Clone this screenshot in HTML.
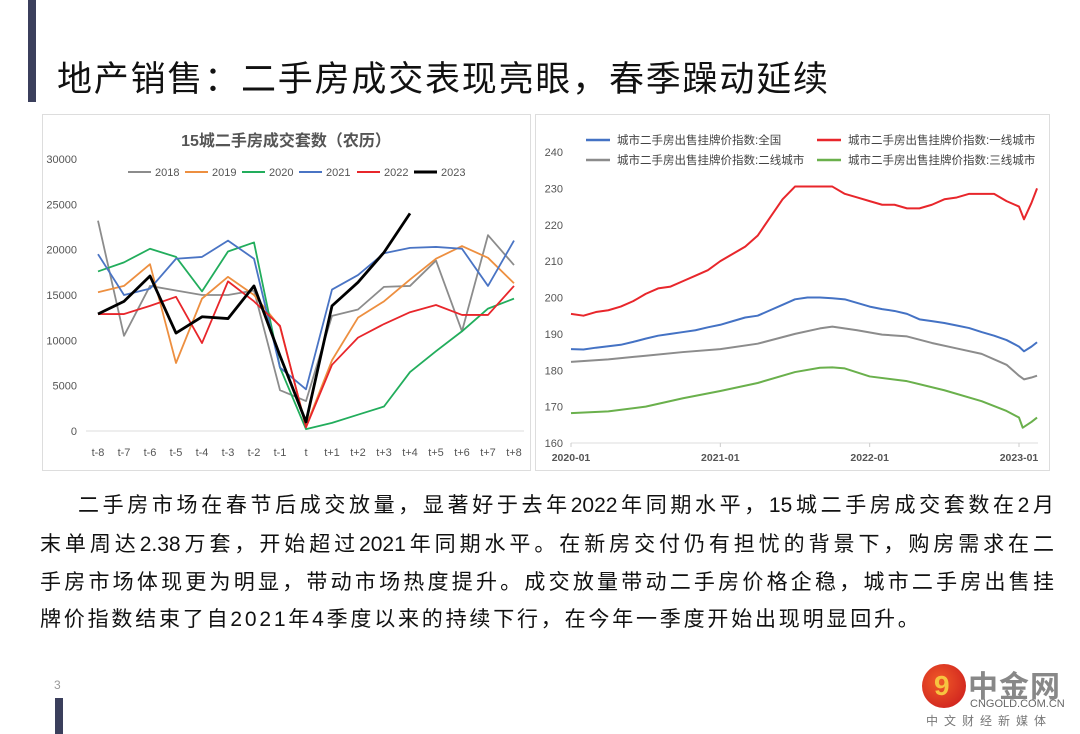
<!DOCTYPE html>
<html><head><meta charset="utf-8">
<style>
*{margin:0;padding:0;box-sizing:border-box}
body{width:1080px;height:734px;background:#fff;position:relative;overflow:hidden;font-family:"Liberation Sans","Noto Sans CJK SC",sans-serif}
.abs{position:absolute}
.line{position:absolute;left:40px;width:1014px;font-size:21px;color:#111;white-space:nowrap;text-align:justify;text-align-last:justify;height:30px;line-height:30px}
</style></head><body>
<div class="abs" style="left:28px;top:0;width:8px;height:102px;background:#3b3f5c"></div>
<div class="abs" style="left:57px;top:58px;font-size:35px;letter-spacing:1.8px;color:#111;white-space:nowrap;line-height:44px">地产销售：二手房成交表现亮眼，春季躁动延续</div>

<svg class="abs" style="left:0;top:0" width="1080" height="734">
<rect x="42.5" y="114.5" width="488" height="356" fill="#fff" stroke="#ddd"/>
<rect x="535.5" y="114.5" width="514" height="356" fill="#fff" stroke="#ddd"/>
<g id="left"></g><g id="right"></g>
</svg>

<div class="line" style="top:491px;left:78px;width:976px">二手房市场在春节后成交放量，显著好于去年2022年同期水平，15城二手房成交套数在2月</div>
<div class="line" style="top:530px">末单周达2.38万套，开始超过2021年同期水平。在新房交付仍有担忧的背景下，购房需求在二</div>
<div class="line" style="top:568px">手房市场体现更为明显，带动市场热度提升。成交放量带动二手房价格企稳，城市二手房出售挂</div>
<div class="line" style="top:605px;text-align-last:left;width:auto;letter-spacing:2.8px">牌价指数结束了自2021年4季度以来的持续下行，在今年一季度开始出现明显回升。</div>

<div class="abs" style="left:54px;top:678px;font-size:12px;color:#999">3</div>
<div class="abs" style="left:55px;top:698px;width:8px;height:36px;background:#3b3f5c"></div>

<div class="abs" style="left:922px;top:662px;width:150px;height:70px">
 <div class="abs" style="left:0;top:2px;width:44px;height:44px;border-radius:50%;background:radial-gradient(circle at 40% 40%,#f05a28,#c8161d)"></div>
 <div class="abs" style="left:12px;top:8px;font-size:28px;font-weight:bold;color:#f7c340">9</div>
 <div class="abs" style="left:46px;top:0;font-size:30px;font-weight:bold;color:#888;letter-spacing:1px">中金网</div>
 <div class="abs" style="left:48px;top:36px;font-size:11px;color:#666">CNGOLD.COM.CN</div>
 <div class="abs" style="left:4px;top:50px;font-size:12px;color:#777;letter-spacing:6px">中文财经新媒体</div>
</div>

<script>
const NS='http://www.w3.org/2000/svg';
function mk(p,t,a){const e=document.createElementNS(NS,t);for(const k in a)e.setAttribute(k,a[k]);p.appendChild(e);return e;}

// ---- Left chart data ----
const lCats=['t-8','t-7','t-6','t-5','t-4','t-3','t-2','t-1','t','t+1','t+2','t+3','t+4','t+5','t+6','t+7','t+8'];
const lYTicks=[0,5000,10000,15000,20000,25000,30000];
const lSeriesNames=['2018','2019','2020','2021','2022','2023'];
const lColors=['#8c8c8c','#ed8f40','#22ad5c','#4a74c4','#e8262b','#000'];
const s2018=[23200,10500,16000,15500,15000,15000,15500,4500,3300,12700,13400,15900,16000,18800,11000,21600,18300];
const s2019=[15300,16000,18400,7500,14600,17000,15000,11500,500,7800,12500,14300,16700,19000,20400,19100,16300];
const s2020=[17600,18600,20100,19200,15400,19800,20800,7000,200,900,1800,2700,6500,8800,11000,13500,14600];
const s2021=[19500,15000,15700,19000,19200,21000,19000,7000,4600,15600,17200,19600,20200,20300,20100,16000,21000];
const s2022=[12900,12900,13800,14800,9700,16500,14300,11600,400,7300,10300,11800,13100,13900,12800,12800,16000];
const s2023=[12900,14300,17100,10800,12600,12400,16000,8300,1000,13800,16400,19700,24000];
const lSeries=[s2018,s2019,s2020,s2021,s2022,s2023];

// ---- Right chart data ----
const rXTicks=['2020-01','2021-01','2022-01','2023-01'];
const rYTicks=[160,170,180,190,200,210,220,230,240];
const rNames=['城市二手房出售挂牌价指数:全国','城市二手房出售挂牌价指数:一线城市','城市二手房出售挂牌价指数:二线城市','城市二手房出售挂牌价指数:三线城市'];
const rColors=['#4472c4','#e8262b','#8c8c8c','#6ab04c'];
const monthsNat=[0,1,2,3,4,5,6,7,8,9,10,11,12,13,14,15,16,17,18,19,20,21,22,23,24,25,26,27,28,29,30,31,32,33,34,35,36,36.4,37,37.45];
const natVals=[185.8,185.7,186.2,186.6,187,187.8,188.7,189.5,190,190.5,191,191.8,192.5,193.5,194.5,195,196.5,198,199.5,200,200,199.8,199.5,198.5,197.5,196.8,196.3,195.5,194,193.5,193,192.3,191.6,190.5,189.5,188.3,186.5,185.2,186.5,187.7];
const monthsT1=[0,1,2,3,4,5,6,7,8,9,10,11,12,13,14,15,16,17,18,19,20,21,22,23,24,25,26,27,28,29,30,31,32,33,34,35,36,36.4,37,37.45];
const t1Vals=[195.5,195,196,196.5,197.5,199,201,202.5,203,204.5,206,207.5,210,212,214,217,222,227,230.5,230.5,230.5,230.5,228.5,227.5,226.5,225.5,225.5,224.5,224.5,225.5,227,227.5,228.5,228.5,228.5,226.5,225,221.5,226,230];
const monthsT2=[0,3,6,9,12,15,18,20,21,23,25,27,29,31,33,35,36,36.4,37,37.45];
const t2Vals=[182.3,183,184,185,185.8,187.3,190,191.5,192,191,189.8,189.3,187.5,186,184.5,181.5,178.5,177.5,178,178.5];
const monthsT3=[0,3,6,9,12,15,18,20,21,22,24,27,30,33,35,36,36.3,37,37.45];
const t3Vals=[168.2,168.7,170,172.3,174.3,176.5,179.5,180.7,180.8,180.5,178.3,177,174.5,171.5,168.8,167,164.2,165.8,167];
const rX=[monthsNat,monthsT1,monthsT2,monthsT3];
const rY=[natVals,t1Vals,t2Vals,t3Vals];

// ---- Left chart draw ----
(function(){
const g=document.getElementById('left');
const x=i=>98+i*26, y=v=>431-v*272/30000;
let t=mk(g,'text',{x:286,y:146,'font-size':16,'font-weight':'bold',fill:'#555','text-anchor':'middle'});t.textContent='15城二手房成交套数（农历）';

let ax=mk(g,'line',{x1:86,x2:524,y1:431,y2:431,stroke:'#ddd'});

lYTicks.forEach(v=>{const e=mk(g,'text',{x:77,y:y(v)+4,'font-size':11,fill:'#555','text-anchor':'end'});e.textContent=v;
});
lCats.forEach((c,i)=>{const e=mk(g,'text',{x:x(i),y:456,'font-size':11,fill:'#555','text-anchor':'middle'});e.textContent=c;
});
lSeries.forEach((s,k)=>{const p=mk(g,'polyline',{points:s.map((v,i)=>x(i)+','+y(v)).join(' '),fill:'none',stroke:lColors[k],'stroke-width':k==5?2.8:1.8,'stroke-linejoin':'round'});
});
const lx=[129,186,243,300,358,415];
lSeriesNames.forEach((n,k)=>{const gg=mk(g,'g',{});

mk(gg,'line',{x1:lx[k]-1,x2:lx[k]+22,y1:172,y2:172,stroke:lColors[k],'stroke-width':k==5?3:2});
const e=mk(gg,'text',{x:lx[k]+26,y:176,'font-size':11,fill:'#555'});e.textContent=n;});
})();

// ---- Right chart draw ----
(function(){
const g=document.getElementById('right');
const x=m=>571+m*448/36, y=v=>443-(v-160)*291/80;
let ax=mk(g,'line',{x1:571,x2:1038,y1:443,y2:443,stroke:'#ddd'});

rYTicks.forEach(v=>{const e=mk(g,'text',{x:563,y:y(v)+4,'font-size':11,fill:'#555','text-anchor':'end'});e.textContent=v;
});
rXTicks.forEach((c,i)=>{mk(g,'line',{x1:x(i*12),x2:x(i*12),y1:443,y2:447,stroke:'#ccc'});
const e=mk(g,'text',{x:x(i*12),y:461,'font-size':10.5,'font-weight':'bold',fill:'#555','text-anchor':'middle'});e.textContent=c;
});
rX.forEach((ms,k)=>{const p=mk(g,'polyline',{points:ms.map((m,i)=>x(m)+','+y(rY[k][i])).join(' '),fill:'none',stroke:rColors[k],'stroke-width':2,'stroke-linejoin':'round'});
});
const pos=[[586,140],[817,140],[586,160],[817,160]];
rNames.forEach((n,k)=>{const gg=mk(g,'g',{});

mk(gg,'line',{x1:pos[k][0],x2:pos[k][0]+24,y1:pos[k][1],y2:pos[k][1],stroke:rColors[k],'stroke-width':2.5});
const e=mk(gg,'text',{x:pos[k][0]+31,y:pos[k][1]+4,'font-size':11.5,fill:'#444'});e.textContent=n;});
})();
</script>
</body></html>
